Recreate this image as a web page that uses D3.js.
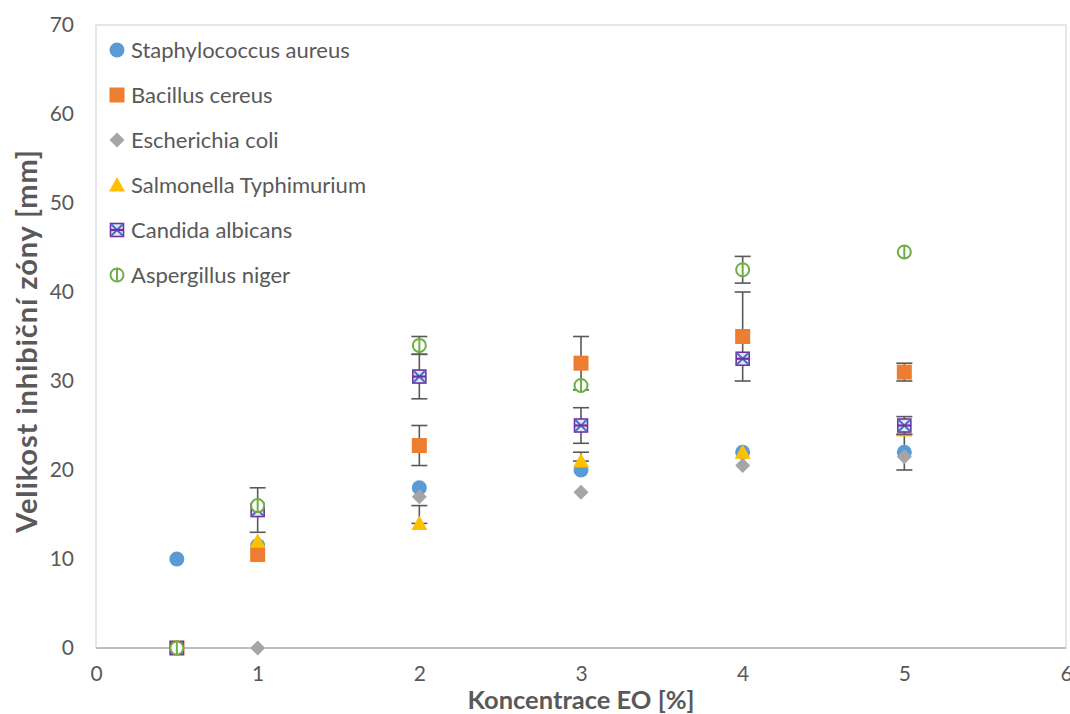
<!DOCTYPE html>
<html><head><meta charset="utf-8">
<script src="https://cdn.jsdelivr.net/npm/d3@7"></script>
<style>
html,body{margin:0;padding:0;background:#fff;}
svg{display:block;font-family:Lato,"Open Sans",sans-serif;}
</style></head>
<body><svg id="c" width="1070" height="714"></svg>
<script>
const concentrations = [0.5, 1, 2, 3, 4, 5];
const seriesNames = ["Staphylococcus aureus","Bacillus cereus","Escherichia coli","Salmonella Typhimurium","Candida albicans","Aspergillus niger"];
const staphValues = [10, 11.5, 18, 20, 22, 22];
const staphErrPlus = [null, null, null, null, null, 2];
const staphErrMinus = [null, null, null, null, null, 2];
const bacillusValues = [0, 10.5, 22.75, 32, 35, 31];
const bacillusErrPlus = [null, null, 2.25, 3, 5, 1];
const bacillusErrMinus = [null, null, 2.25, 3, 5, 1];
const ecoliValues = [0, 0, 17, 17.5, 20.5, 21.5];
const ecoliErrPlus = [null, null, null, null, null, null];
const ecoliErrMinus = [null, null, null, null, null, null];
const salmonellaValues = [0, 12, 14, 21, 22, 24.5];
const salmonellaErrPlus = [null, null, 2, 1, null, null];
const salmonellaErrMinus = [null, null, 0, 0, null, null];
const candidaValues = [0, 15.5, 30.5, 25, 32.5, 25];
const candidaErrPlus = [null, 2.5, 2.5, 2, null, 1];
const candidaErrMinus = [null, 2.5, 2.5, 2, null, 1];
const aspergillusValues = [0, 16, 34, 29.5, 42.5, 44.5];
const aspergillusErrPlus = [null, null, 1, null, 1.5, null];
const aspergillusErrMinus = [null, null, 1, null, 1.5, null];
const xTicks = [0, 1, 2, 3, 4, 5, 6];
const yTicks = [0, 10, 20, 30, 40, 50, 60, 70];

const series = [
  {name: seriesNames[0], values: staphValues, ep: staphErrPlus, em: staphErrMinus, kind: "circle"},
  {name: seriesNames[1], values: bacillusValues, ep: bacillusErrPlus, em: bacillusErrMinus, kind: "square"},
  {name: seriesNames[2], values: ecoliValues, ep: ecoliErrPlus, em: ecoliErrMinus, kind: "diamond"},
  {name: seriesNames[3], values: salmonellaValues, ep: salmonellaErrPlus, em: salmonellaErrMinus, kind: "triangle"},
  {name: seriesNames[4], values: candidaValues, ep: candidaErrPlus, em: candidaErrMinus, kind: "star"},
  {name: seriesNames[5], values: aspergillusValues, ep: aspergillusErrPlus, em: aspergillusErrMinus, kind: "ring"}
];

const svg = d3.select("#c");
const L = 96, R = 1066, T = 25, B = 648;
const x = d3.scaleLinear().domain([0, 6]).range([L, R]);
const y = d3.scaleLinear().domain([0, 70]).range([B, T]);
const textCol = "#595959";

// plot border
svg.append("rect").attr("x", L).attr("y", T).attr("width", R - L).attr("height", B - T)
  .attr("fill", "none").attr("stroke", "#d9d9d9").attr("stroke-width", 1.3);
svg.append("line").attr("x1", L).attr("x2", R).attr("y1", B).attr("y2", B)
  .attr("stroke", "#bfbfbf").attr("stroke-width", 2);

// axes tick labels
const xAxis = svg.append("g").attr("transform", `translate(0,${B})`)
  .call(d3.axisBottom(x).tickValues(xTicks).tickFormat(d3.format("d")).tickSize(0).tickPadding(18));
const yAxis = svg.append("g").attr("transform", `translate(${L},0)`)
  .call(d3.axisLeft(y).tickValues(yTicks).tickFormat(d3.format("d")).tickSize(0).tickPadding(22));
[xAxis, yAxis].forEach(g => {
  g.select(".domain").remove();
  g.selectAll("text").attr("fill", textCol).style("font-size", "21px").style("font-family", "Lato, sans-serif");
});

// axis titles
svg.append("text").attr("x", 581).attr("y", 709).attr("text-anchor", "middle")
  .attr("fill", textCol).style("font-size", "25.5px").style("font-weight", "bold").text("Koncentrace EO [%]");
svg.append("text").attr("transform", `translate(37,341) rotate(-90)`).attr("text-anchor", "middle")
  .attr("fill", textCol).style("font-size", "29px").style("letter-spacing", "0.9px").style("font-weight", "bold").text("Velikost inhibiční zóny [mm]");

function drawMarker(g, kind, cx, cy) {
  if (kind === "circle") {
    g.append("circle").attr("cx", cx).attr("cy", cy).attr("r", 7.5).attr("fill", "#5b9bd5");
  } else if (kind === "square") {
    g.append("rect").attr("x", cx - 7.5).attr("y", cy - 7.5).attr("width", 15).attr("height", 15).attr("fill", "#ed7d31");
  } else if (kind === "diamond") {
    g.append("path").attr("d", `M${cx},${cy - 7.5}L${cx + 7.5},${cy}L${cx},${cy + 7.5}L${cx - 7.5},${cy}Z`).attr("fill", "#a5a5a5");
  } else if (kind === "triangle") {
    g.append("path").attr("d", `M${cx},${cy - 8}L${cx + 8},${cy + 6.5}L${cx - 8},${cy + 6.5}Z`).attr("fill", "#ffc000");
  } else if (kind === "star") {
    g.append("rect").attr("x", cx - 6.5).attr("y", cy - 6.5).attr("width", 13).attr("height", 13)
      .attr("fill", "#e8e4f4").attr("stroke", "#7030a0").attr("stroke-width", 1.6);
    g.append("path").attr("d", `M${cx - 6},${cy - 6}L${cx + 6},${cy + 6}M${cx + 6},${cy - 6}L${cx - 6},${cy + 6}`)
      .attr("stroke", "#4472c4").attr("stroke-width", 2);
    g.append("path").attr("d", `M${cx - 6.5},${cy}L${cx + 6.5},${cy}`).attr("stroke", "#7030a0").attr("stroke-width", 2.2);
  } else if (kind === "ring") {
    g.append("circle").attr("cx", cx).attr("cy", cy).attr("r", 6.5).attr("fill", "#fff")
      .attr("stroke", "#70ad47").attr("stroke-width", 2);
    g.append("line").attr("x1", cx).attr("x2", cx).attr("y1", cy - 6.5).attr("y2", cy + 6.5)
      .attr("stroke", "#70ad47").attr("stroke-width", 2);
  }
}

const plot = svg.append("g");
series.forEach(s => {
  const g = plot.append("g");
  s.values.forEach((v, i) => {
    const ep = s.ep[i], em = s.em[i];
    if (ep !== null && em !== null) {
      const cx = x(concentrations[i]);
      const y1 = y(v + ep), y2 = y(v - em);
      g.append("line").attr("x1", cx).attr("x2", cx).attr("y1", y1).attr("y2", y2)
        .attr("stroke", "#595959").attr("stroke-width", 1.6);
      [y1, y2].forEach(yy => g.append("line").attr("x1", cx - 8).attr("x2", cx + 8).attr("y1", yy).attr("y2", yy)
        .attr("stroke", "#595959").attr("stroke-width", 1.6));
    }
  });
  s.values.forEach((v, i) => drawMarker(g, s.kind, x(concentrations[i]), y(v)));
});

// legend
const legend = svg.append("g");
series.forEach((s, i) => {
  const ly = 50 + i * 45;
  const g = legend.append("g");
  drawMarker(g, s.kind, 117, ly);
  g.append("text").attr("x", 131).attr("y", ly + 7.5).attr("fill", textCol)
    .style("font-size", "22px").text(s.name);
});
</script></body></html>
